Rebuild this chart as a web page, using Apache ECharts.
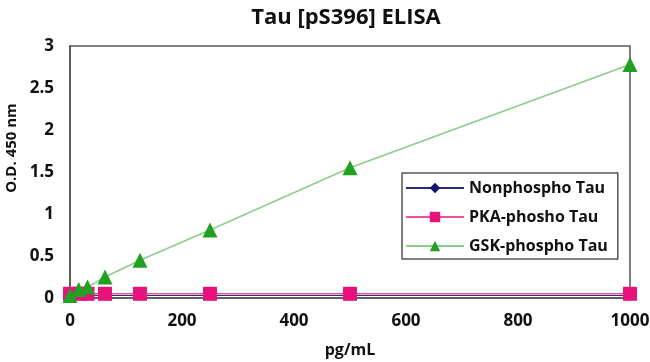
<!DOCTYPE html>
<html>
<head>
<meta charset="utf-8">
<script src="https://cdn.jsdelivr.net/npm/echarts@6/dist/echarts.min.js"></script>
<style>
  html, body { margin: 0; padding: 0; background: #fff; }
  #draw { width: 650px; height: 362px; }
</style>
</head>
<body>
<div id="draw"></div>
<script>
  // concentrations (pg/mL)
  var conc = [0, 15.6, 31.25, 62.5, 125, 250, 500, 1000]
  var nonphospho = [0.03, 0.03, 0.03, 0.03, 0.03, 0.03, 0.03, 0.03]
  var pkaPhospho = [0.05, 0.05, 0.05, 0.05, 0.05, 0.05, 0.05, 0.05]
  var gskPhospho = [0.03, 0.1, 0.13, 0.25, 0.45, 0.81, 1.55, 2.78]
  var seriesNames = ['Nonphospho Tau', 'PKA-phosho Tau', 'GSK-phospho Tau']

  var font = 'Open Sans'

  function pairs (ys) {
    var out = []
    for (var i = 0; i < conc.length; i++) {
      out.push([conc[i], ys[i]])
    }
    return out
  }

  var myChart = echarts.init(document.getElementById('draw'))
  myChart.setOption({
    animation: false,
    title: {
      text: 'Tau [pS396] ELISA',
      left: 341,
      textAlign: 'center',
      top: 2,
      textStyle: { fontFamily: font, fontWeight: 'bold', fontSize: 22, color: '#111' }
    },
    grid: {
      left: 70,
      right: 20,
      top: 46,
      bottom: 64,
      outerBoundsMode: 'none',
      containLabel: false,
      show: true,
      borderColor: '#555',
      borderWidth: 1.5,
      backgroundColor: '#fff'
    },
    legend: {
      orient: 'vertical',
      left: 402,
      top: 173,
      data: seriesNames,
      backgroundColor: '#fff',
      borderColor: '#555',
      borderWidth: 1.5,
      borderRadius: 0,
      padding: [7, 10, 5, 3],
      itemWidth: 58,
      itemHeight: 13,
      itemGap: 13,
      textStyle: { fontFamily: font, fontWeight: 'bold', fontSize: 16, color: '#111' }
    },
    xAxis: {
      type: 'value',
      min: 0,
      max: 1000,
      interval: 200,
      name: 'pg/mL',
      nameLocation: 'middle',
      nameGap: 44,
      nameTextStyle: { fontFamily: font, fontWeight: 'bold', fontSize: 16, color: '#111' },
      axisLine: { lineStyle: { color: '#555', width: 1.5 } },
      axisTick: { show: false },
      axisLabel: {
        fontFamily: font, fontWeight: 'bold', fontSize: 17, color: '#111', margin: 15,
        formatter: function (v) { return String(v) }
      },
      splitLine: { show: false }
    },
    yAxis: {
      type: 'value',
      min: 0,
      max: 3,
      interval: 0.5,
      name: 'O.D. 450 nm',
      nameLocation: 'middle',
      nameGap: 50,
      nameTextStyle: { fontFamily: font, fontWeight: 'bold', fontSize: 15, color: '#111', padding: [0, 0, 0, 48] },
      axisLine: { lineStyle: { color: '#555', width: 1.5 } },
      axisTick: { show: false },
      axisLabel: { fontFamily: font, fontWeight: 'bold', fontSize: 17, color: '#111', margin: 16 },
      splitLine: { show: false }
    },
    series: [{
      name: seriesNames[0],
      type: 'line',
      symbol: 'diamond',
      symbolSize: 10,
      lineStyle: { color: '#2a2a7a', width: 1 },
      itemStyle: { color: '#14146e' },
      data: pairs(nonphospho)
    }, {
      name: seriesNames[1],
      type: 'line',
      symbol: 'rect',
      symbolSize: 14,
      lineStyle: { color: '#ee4f98', width: 1.5 },
      itemStyle: { color: '#e8127a' },
      data: pairs(pkaPhospho)
    }, {
      name: seriesNames[2],
      type: 'line',
      symbol: 'triangle',
      symbolSize: 15,
      lineStyle: { color: '#8ccc8c', width: 1.5 },
      itemStyle: { color: '#22a022' },
      data: pairs(gskPhospho)
    }]
  })
</script>
</body>
</html>
